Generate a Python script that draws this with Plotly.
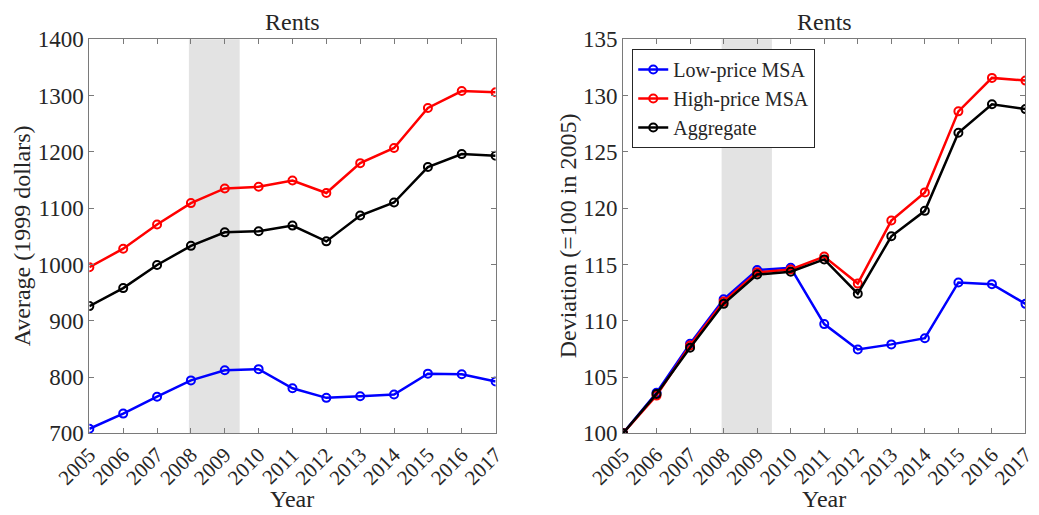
import plotly.graph_objects as go

years = list(range(2005, 2018))
tick_labels = [str(y) for y in years]

# Left panel: average rents (1999 dollars)
low_avg = [708, 735, 765, 794, 812, 814, 780, 763, 766, 769, 806, 805, 792]
high_avg = [995, 1028, 1071, 1109, 1135, 1138, 1149, 1127, 1180, 1207, 1278, 1308, 1306]
agg_avg = [926, 958, 999, 1033, 1057, 1059, 1069, 1041, 1087, 1110, 1173, 1196, 1193]

# Right panel: deviation (=100 in 2005)
low_dev = [100, 103.6, 107.95, 111.9, 114.5, 114.7, 109.7, 107.45, 107.9, 108.45, 113.4, 113.25, 111.5]
high_dev = [100, 103.35, 107.8, 111.7, 114.3, 114.55, 115.7, 113.3, 118.9, 121.4, 128.6, 131.57, 131.33]
agg_dev = [100, 103.5, 107.6, 111.5, 114.1, 114.35, 115.45, 112.4, 117.5, 119.76, 126.7, 129.23, 128.8]

recession = [2007.94, 2009.44]

series_names = ["Low-price MSA", "High-price MSA", "Aggregate"]
colors = ["#0000ff", "#ff0000", "#000000"]

FONT = "Liberation Serif"
TXT = "#262626"
AX = "#7a7a7a"

fig = go.Figure()

for name, col, ys in zip(series_names, colors, [low_avg, high_avg, agg_avg]):
    fig.add_trace(go.Scatter(x=years, y=ys, mode="lines+markers", name=name,
                             line=dict(color=col, width=2.5),
                             marker=dict(symbol="circle-open", size=8, color=col, line=dict(width=2)),
                             xaxis="x", yaxis="y", showlegend=False))
for name, col, ys in zip(series_names, colors, [low_dev, high_dev, agg_dev]):
    fig.add_trace(go.Scatter(x=years, y=ys, mode="lines+markers", name=name,
                             line=dict(color=col, width=2.5),
                             marker=dict(symbol="circle-open", size=8, color=col, line=dict(width=2)),
                             xaxis="x2", yaxis="y2", showlegend=True))

for xr in ["x", "x2"]:
    fig.add_shape(type="rect", xref=xr, yref=("y domain" if xr == "x" else "y2 domain"),
                  x0=recession[0], x1=recession[1], y0=0, y1=1,
                  fillcolor="#e3e3e3", line=dict(width=0), layer="below")

xax = dict(range=[2005, 2017], tickmode="array", tickvals=years, ticktext=tick_labels,
           tickangle=-45, ticks="inside", ticklen=5, tickcolor=AX, showline=True,
           linecolor=AX, linewidth=1, mirror="ticks", showgrid=False, zeroline=False,
           automargin=False, ticklabeloverflow="allow", ticklabelshift=0,
           tickfont=dict(family=FONT, size=21, color=TXT))
yax = dict(ticks="inside", ticklen=5, tickcolor=AX, showline=True, linecolor=AX,
           linewidth=1, mirror="ticks", showgrid=False, zeroline=False,
           automargin=False, tickfont=dict(family=FONT, size=23, color=TXT))

L0, L1 = 0.086, 0.477
R0, R1 = 0.5996, 0.987
Y0, Y1 = 0.1586, 0.9237

fig.update_layout(
    width=1039, height=515,
    margin=dict(l=0, r=0, t=0, b=0, autoexpand=False),
    paper_bgcolor="white", plot_bgcolor="white",
    font=dict(family=FONT, size=23, color=TXT),
    xaxis=dict(domain=[L0, L1], anchor="y", **xax),
    yaxis=dict(domain=[Y0, Y1], anchor="x", range=[700, 1400], dtick=100, **yax),
    xaxis2=dict(domain=[R0, R1], anchor="y2", **xax),
    yaxis2=dict(domain=[Y0, Y1], anchor="x2", range=[100, 135], dtick=5, **yax),
    legend=dict(x=0.6085, y=0.905, xanchor="left", yanchor="top",
                bgcolor="white", bordercolor="#262626", borderwidth=1,
                font=dict(family=FONT, size=20, color=TXT), tracegroupgap=0,
                itemwidth=30),
    annotations=[
        dict(text="Rents", x=(L0 + L1) / 2, y=0.928, xref="paper", yref="paper",
             xanchor="center", yanchor="bottom", showarrow=False, font=dict(size=24)),
        dict(text="Rents", x=(R0 + R1) / 2, y=0.928, xref="paper", yref="paper",
             xanchor="center", yanchor="bottom", showarrow=False, font=dict(size=24)),
        dict(text="Year", x=(L0 + L1) / 2, y=0.002, xref="paper", yref="paper",
             xanchor="center", yanchor="bottom", showarrow=False, font=dict(size=24)),
        dict(text="Year", x=(R0 + R1) / 2, y=0.002, xref="paper", yref="paper",
             xanchor="center", yanchor="bottom", showarrow=False, font=dict(size=24)),
        dict(text="Average (1999 dollars)", x=22 / 1039, y=(Y0 + Y1) / 2,
             xref="paper", yref="paper", xanchor="center", yanchor="middle",
             textangle=-90, showarrow=False, font=dict(size=24)),
        dict(text="Deviation (=100 in 2005)", x=568 / 1039, y=(Y0 + Y1) / 2,
             xref="paper", yref="paper", xanchor="center", yanchor="middle",
             textangle=-90, showarrow=False, font=dict(size=24)),
    ],
)

fig.write_html("out.html", config={"displayModeBar": False},
               post_script="document.body.style.margin='0';document.body.style.overflow='hidden';")
